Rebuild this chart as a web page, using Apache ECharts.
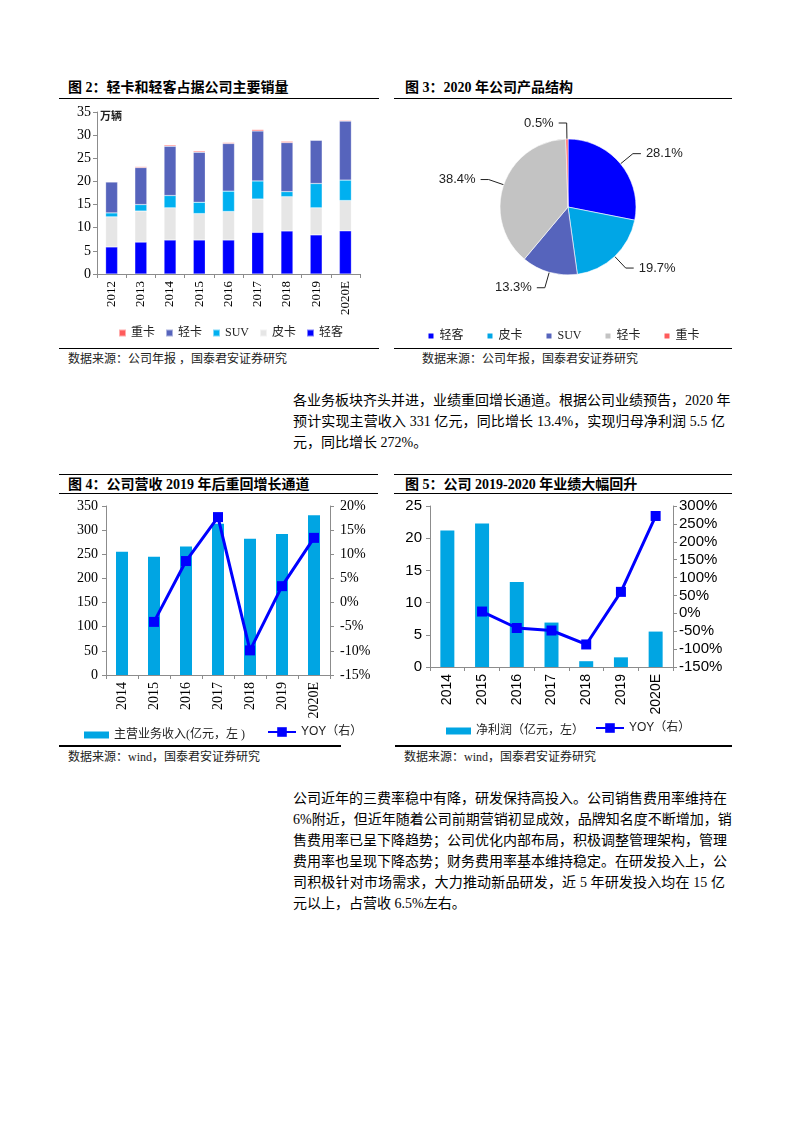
<!DOCTYPE html>
<html><head><meta charset="utf-8">
<script src="https://cdn.jsdelivr.net/npm/echarts@6/dist/echarts.min.js"></script>
<style>
body{margin:0;background:#fff;}
#page{position:relative;width:793px;height:1122px;overflow:hidden;background:#fff;font-family:"Liberation Serif","Noto Sans CJK SC",serif;}
.abs{position:absolute;}
.hl{position:absolute;height:1.5px;background:#000;}
.ttl{position:absolute;font-size:14px;font-weight:bold;line-height:16px;white-space:pre;color:#000;}
.src{position:absolute;font-size:12px;line-height:14px;color:#222;white-space:pre;}
.ln{position:absolute;left:293px;width:432px;font-size:14px;line-height:21px;height:21px;text-align:justify;text-align-last:justify;white-space:nowrap;color:#000;}
.ln.last{text-align-last:left;}
</style></head>
<body><div id="page">
<div class="ttl" style="left:68px;top:80px;">图 2：轻卡和轻客占据公司主要销量</div>
<div class="ttl" style="left:405px;top:80px;">图 3：2020 年公司产品结构</div>
<div class="hl" style="left:59px;top:97.5px;width:320px;"></div>
<div class="hl" style="left:394px;top:97.5px;width:338px;"></div>
<div id="c1" class="abs" style="left:59px;top:100px;width:320px;height:245px;"></div>
<div id="c2" class="abs" style="left:394px;top:100px;width:338px;height:245px;"></div>
<div class="hl" style="left:59px;top:347.5px;width:320px;"></div>
<div class="hl" style="left:394px;top:347.5px;width:338px;"></div>
<div class="src" style="left:68px;top:352px;">数据来源：公司年报 ，国泰君安证券研究</div>
<div class="src" style="left:422px;top:352px;">数据来源：公司年报，国泰君安证券研究</div>

<div class="ln" style="top:389.5px;">各业务板块齐头并进，业绩重回增长通道。根据公司业绩预告，2020 年</div>
<div class="ln" style="top:410.5px;">预计实现主营收入 331 亿元，同比增长 13.4%，实现归母净利润 5.5 亿</div>
<div class="ln last" style="top:431.5px;">元，同比增长 272%。</div>

<div class="hl" style="left:59px;top:473.5px;width:319px;"></div>
<div class="hl" style="left:394px;top:473.5px;width:338px;"></div>
<div class="ttl" style="left:68px;top:477px;">图 4：公司营收 2019 年后重回增长通道</div>
<div class="ttl" style="left:405px;top:477px;">图 5：公司 2019-2020 年业绩大幅回升</div>
<div class="hl" style="left:59px;top:492.5px;width:319px;"></div>
<div class="hl" style="left:394px;top:492.5px;width:338px;"></div>
<div id="c3" class="abs" style="left:59px;top:494px;width:319px;height:251px;"></div>
<div id="c4" class="abs" style="left:394px;top:494px;width:338px;height:251px;"></div>
<div class="hl" style="left:59px;top:745px;width:282px;"></div>
<div class="hl" style="left:395px;top:745px;width:337px;"></div>
<div class="src" style="left:68px;top:750px;">数据来源：wind，国泰君安证券研究</div>
<div class="src" style="left:404px;top:750px;">数据来源：wind，国泰君安证券研究</div>

<div class="ln" style="top:787.5px;">公司近年的三费率稳中有降，研发保持高投入。公司销售费用率维持在</div>
<div class="ln" style="top:808.5px;">6%附近，但近年随着公司前期营销初显成效，品牌知名度不断增加，销</div>
<div class="ln" style="top:829.5px;">售费用率已呈下降趋势；公司优化内部布局，积极调整管理架构，管理</div>
<div class="ln" style="top:850.5px;">费用率也呈现下降态势；财务费用率基本维持稳定。在研发投入上，公</div>
<div class="ln" style="top:871.5px;">司积极针对市场需求，大力推动新品研发，近 5 年研发投入均在 15 亿</div>
<div class="ln last" style="top:892.5px;">元以上，占营收 6.5%左右。</div>
</div>
<script>
// ---- Figure 2 data (万辆) ----
const years1 = ['2012','2013','2014','2015','2016','2017','2018','2019','2020E'];
const qingke  = [5.85, 6.9, 7.35, 7.35, 7.35, 9.0, 9.3, 8.45, 9.33];
const pika    = [6.5, 6.7, 6.95, 5.7, 6.15, 7.2, 7.4, 5.85, 6.54];
const suv     = [0.85, 1.4, 2.65, 2.45, 4.4, 3.9, 1.1, 5.25, 4.42];
const qingka  = [6.7, 8.0, 10.65, 10.8, 10.3, 10.8, 10.6, 9.35, 12.75];
const zhongka = [0, 0.2, 0.25, 0.25, 0.2, 0.3, 0.25, 0.1, 0.17];
const yTicks1 = [0, 35, 5];

// ---- Figure 3 data (%) ----
const pieNames  = ['轻客','皮卡','SUV','轻卡','重卡'];
const pieValues = [28.1, 19.7, 13.3, 38.4, 0.5];

// ---- Figure 4 data ----
const years2 = ['2014','2015','2016','2017','2018','2019','2020E'];
const revenue = [255, 245, 266, 313, 282, 292, 331];
const revYoy  = [null, -4.0, 8.6, 17.7, -9.9, 3.4, 13.4];

// ---- Figure 5 data ----
const profit    = [21.2, 22.3, 13.2, 6.9, 0.9, 1.5, 5.5];
const profitYoy = [null, 5, -41, -48, -87, 60, 272];

const SERIF = '"Liberation Serif","Noto Sans CJK SC",serif';
const SANS = '"Liberation Sans","Noto Sans CJK SC",sans-serif';
const AX = '#8c8c8c';

const C_QK = '#0000FF', C_PK = '#E6E6E6', C_SUV = '#00B0F0', C_QKA = '#5664BC', C_ZK = '#FF5B5B';
const C_BAR = '#00A5E3';

// Figure 2
const c1 = echarts.init(document.getElementById('c1'));
function stk(name, data, color){
  return {name, type:'bar', stack:'s', data, barWidth:12,
    itemStyle:{color, borderColor:'rgba(255,255,255,0.5)', borderWidth:0.5}};
}
c1.setOption({
  animation:false,
  grid:{left:38, right:19, top:12, bottom:71},
  legend:{top:222, left:54, width:260, itemWidth:7, itemHeight:7, itemGap:10, icon:'rect',
    data:['重卡','轻卡','SUV','皮卡','轻客'],
    textStyle:{fontFamily:SERIF, fontSize:12, color:'#222'}},
  graphic:[{type:'text', left:41, top:10, style:{text:'万辆', font:'bold 11px "Noto Sans CJK SC"', fill:'#222'}}],
  xAxis:{type:'category', data:years1,
    axisLine:{lineStyle:{color:AX}}, axisTick:{show:true, length:4, lineStyle:{color:AX}},
    axisLabel:{rotate:90, fontFamily:SERIF, fontSize:13, color:'#000', margin:7}},
  yAxis:{type:'value', min:yTicks1[0], max:yTicks1[1], interval:yTicks1[2],
    axisLine:{show:true, lineStyle:{color:AX}}, axisTick:{show:true, length:4, lineStyle:{color:AX}},
    splitLine:{show:false},
    axisLabel:{fontFamily:SERIF, fontSize:14, color:'#000', margin:6}},
  series:[stk('轻客', qingke, C_QK), stk('皮卡', pika, C_PK), stk('SUV', suv, C_SUV),
          stk('轻卡', qingka, C_QKA), stk('重卡', zhongka, C_ZK)]
});

// Figure 3
const c2 = echarts.init(document.getElementById('c2'));
const pieColors = ['#0000FF', '#00A6E6', '#5664BC', '#C3C3C3', '#FF5B5B'];
c2.setOption({
  animation:false,
  legend:{top:225, left:'center', itemWidth:7, itemHeight:7, itemGap:22, icon:'rect',
    data:pieNames, textStyle:{fontFamily:SERIF, fontSize:12, color:'#222'}},
  series:[{type:'pie', center:[174,107], radius:68, startAngle:90, clockwise:true,
    data:pieNames.map((n,i)=>({name:n, value:pieValues[i], itemStyle:{color:pieColors[i]}})),
    itemStyle:{borderColor:'#fff', borderWidth:0.6},
    label:{formatter:p=>p.value.toFixed(1)+'%', fontFamily:SANS, fontSize:13, color:'#222'},
    labelLine:{length:16, length2:8, lineStyle:{color:'#222', width:1}}
  }]
});

// Figure 4
const c3 = echarts.init(document.getElementById('c3'));
c3.setOption({
  animation:false,
  grid:{left:47, right:48, top:12, bottom:70},
  legend:[
    {data:['主营业务收入(亿元，左 )'], left:20, top:230, itemWidth:25, itemHeight:7, icon:'rect',
     textStyle:{fontFamily:SERIF, fontSize:12, color:'#222'}},
    {data:['YOY（右）'], left:203, top:227, itemWidth:28, itemHeight:12,
     textStyle:{fontFamily:SANS, fontSize:12, color:'#222'}}
  ],
  xAxis:{type:'category', data:years2,
    axisLine:{lineStyle:{color:AX}}, axisTick:{show:true, length:4, lineStyle:{color:AX}},
    axisLabel:{rotate:90, fontFamily:SERIF, fontSize:14, color:'#000', margin:7}},
  yAxis:[
    {type:'value', min:0, max:350, interval:50, axisLine:{show:true, lineStyle:{color:AX}},
     axisTick:{show:true, length:4, lineStyle:{color:AX}}, splitLine:{show:false},
     axisLabel:{fontFamily:SERIF, fontSize:14, color:'#000', margin:8}},
    {type:'value', min:-15, max:20, interval:5, position:'right', axisLine:{show:true, lineStyle:{color:AX}},
     axisTick:{show:true, length:4, lineStyle:{color:AX}}, splitLine:{show:false},
     axisLabel:{fontFamily:SERIF, fontSize:14, color:'#000', margin:10, formatter:v=>v+'%'}}
  ],
  series:[
    {name:'主营业务收入(亿元，左 )', type:'bar', data:revenue, barWidth:12, itemStyle:{color:C_BAR}},
    {name:'YOY（右）', type:'line', yAxisIndex:1, data:revYoy, symbol:'rect', symbolSize:10,
     lineStyle:{color:'#0000FF', width:3}, itemStyle:{color:'#0000FF'}}
  ]
});

// Figure 5
const c4 = echarts.init(document.getElementById('c4'));
c4.setOption({
  animation:false,
  grid:{left:36, right:59, top:12, bottom:78},
  legend:[
    {data:['净利润（亿元，左）'], left:47, top:226, itemWidth:25, itemHeight:7, icon:'rect',
     textStyle:{fontFamily:SERIF, fontSize:12, color:'#222'}},
    {data:['YOY（右）'], left:196, top:223, itemWidth:28, itemHeight:12,
     textStyle:{fontFamily:SANS, fontSize:12, color:'#222'}}
  ],
  xAxis:{type:'category', data:years2,
    axisLine:{lineStyle:{color:AX}}, axisTick:{show:true, length:4, lineStyle:{color:AX}},
    axisLabel:{rotate:90, fontFamily:SANS, fontSize:14, color:'#000', margin:7}},
  yAxis:[
    {type:'value', min:0, max:25, interval:5, axisLine:{show:true, lineStyle:{color:AX}},
     axisTick:{show:true, length:4, lineStyle:{color:AX}}, splitLine:{show:false},
     axisLabel:{fontFamily:SANS, fontSize:15, color:'#000', margin:8}},
    {type:'value', min:-150, max:300, interval:50, position:'right', axisLine:{show:true, lineStyle:{color:AX}},
     axisTick:{show:true, length:4, lineStyle:{color:AX}}, splitLine:{show:false},
     axisLabel:{fontFamily:SANS, fontSize:15, color:'#000', margin:6, formatter:v=>v+'%'}}
  ],
  series:[
    {name:'净利润（亿元，左）', type:'bar', data:profit, barWidth:14, itemStyle:{color:C_BAR}},
    {name:'YOY（右）', type:'line', yAxisIndex:1, data:profitYoy, symbol:'rect', symbolSize:10,
     lineStyle:{color:'#0000FF', width:3}, itemStyle:{color:'#0000FF'}}
  ]
});
</script>
</body></html>
